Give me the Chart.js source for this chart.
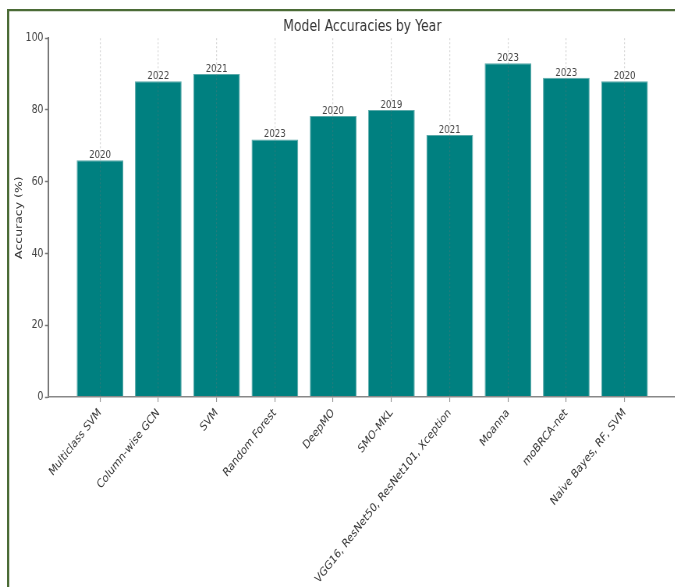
<!DOCTYPE html>
<html><head><meta charset="utf-8">
<script src="https://cdn.jsdelivr.net/npm/chart.js@4.4.0/dist/chart.umd.min.js"></script>
<style>
html,body{margin:0;padding:0;background:#fff;overflow:hidden;width:675px;height:587px;position:relative;}
#c{position:absolute;left:0;top:0;transform:scaleX(0.78);transform-origin:0 0;}
.bd{position:absolute;background:#4b6b36;}
.bl{position:absolute;background:rgba(75,107,54,0.25);}
</style></head><body>
<canvas id="c" width="929" height="587"></canvas>
<div class="bd" style="left:7px;top:9px;width:668px;height:2px"></div>
<div class="bd" style="left:7px;top:9px;width:2px;height:578px"></div>
<div class="bl" style="left:9px;top:11px;width:666px;height:1px"></div>
<div class="bl" style="left:9px;top:11px;width:1px;height:576px"></div>
<script>
const categories = ['Multiclass SVM', 'Column-wise GCN', 'SVM', 'Random Forest', 'DeepMO', 'SMO-MKL', 'VGG16, ResNet50, ResNet101, Xception', 'Moanna', 'moBRCA-net', 'Naive Bayes, RF, SVM'];
const accuracy = [66, 88, 90, 71.8, 78.3, 80, 73, 93, 89, 88];
const years = ['2020', '2022', '2021', '2023', '2020', '2019', '2021', '2023', '2023', '2020'];
const yTicks = [0, 20, 40, 60, 80, 100];
const chartTitle = 'Model Accuracies by Year';
const yTitle = 'Accuracy (%)';

const FONT = '"DejaVu Sans", sans-serif';
const points = accuracy.map((v, i) => ({x: i, y: v}));

const yearLabels = {
  id: 'yearLabels',
  afterDraw(chart) {
    const ctx = chart.ctx;
    const meta = chart.getDatasetMeta(0);
    ctx.save();
    ctx.font = '11px ' + FONT;
    ctx.fillStyle = '#444';
    ctx.textAlign = 'center';
    ctx.textBaseline = 'alphabetic';
    meta.data.forEach((el, i) => {
      ctx.fillText(years[i], el.x, el.y - 2);
    });
    ctx.restore();
  }
};

new Chart(document.getElementById('c'), {
  type: 'bar',
  data: {
    datasets: [{
      data: points,
      backgroundColor: '#008080',
      borderColor: '#5aa9a9',
      borderWidth: 1,
      categoryPercentage: 1.0,
      barPercentage: 0.8
    }]
  },
  options: {
    responsive: false,
    animation: false,
    devicePixelRatio: 1,
    layout: {padding: 0},
    plugins: {
      legend: {display: false},
      tooltip: {enabled: false},
      title: {
        display: true,
        text: chartTitle,
        color: '#333',
        font: {family: FONT, size: 16, weight: 'normal'},
        padding: {top: 17, bottom: 2}
      }
    },
    scales: {
      x: {
        type: 'linear',
        min: -0.89,
        max: 10.717,
        offset: false,
        afterBuildTicks(scale) { scale.ticks = categories.map((_, i) => ({value: i})); },
        afterFit(scale) { scale.height = 190; },
        grid: {
          offset: false,
          display: true,
          drawOnChartArea: true,
          color: 'rgba(120,120,120,0.3)',
          lineWidth: 1.2,
          drawTicks: true,
          tickLength: 5,
          tickColor: '#888',
          tickWidth: 1,
          z: 1
        },
        border: {display: true, color: '#888', width: 1.5, dash: [2, 2], z: 1},
        ticks: {
          autoSkip: false,
          minRotation: 45,
          maxRotation: 45,
          padding: 4,
          color: '#333',
          font: {family: FONT, size: 12},
          callback: (v) => categories[v]
        }
      },
      y: {
        min: 0,
        max: 100,
        afterBuildTicks(scale) { scale.ticks = yTicks.map(v => ({value: v})); },
        afterFit(scale) { scale.width = 61.7; },
        grid: {
          drawOnChartArea: false,
          drawTicks: true,
          tickLength: 4,
          tickColor: '#777',
          tickWidth: 1.5
        },
        border: {display: true, color: '#777', width: 2},
        ticks: {
          padding: 2,
          color: '#444',
          font: {family: FONT, size: 12}
        },
        title: {
          display: true,
          text: yTitle,
          color: '#333',
          font: {family: FONT, size: 12.5},
          padding: {top: 17, bottom: 0}
        }
      }
    }
  },
  plugins: [yearLabels]
});
</script>
</body></html>
